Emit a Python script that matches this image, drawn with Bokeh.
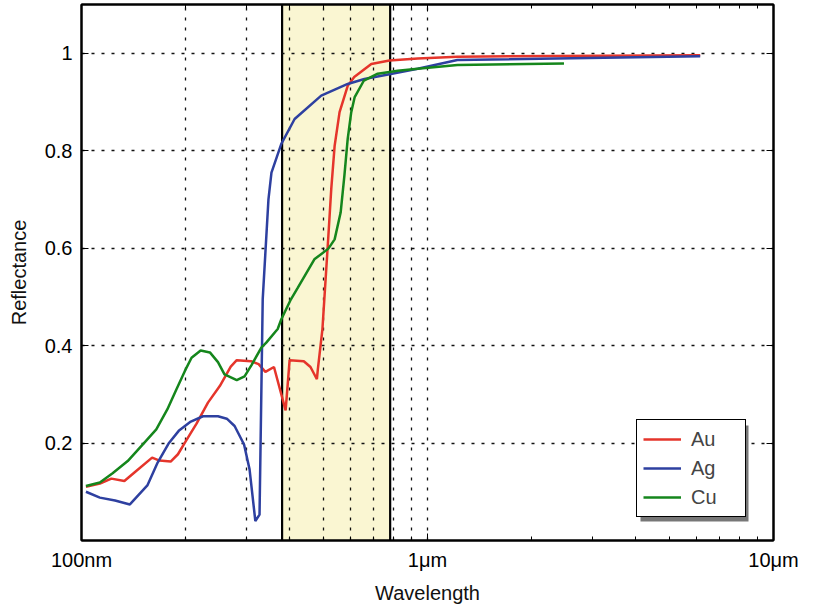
from bokeh.plotting import figure
from bokeh.models import (FixedTicker, LogAxis, LinearAxis, Legend, LegendItem,
                          BoxAnnotation, CustomJSTickFormatter)
from bokeh.embed import file_html
from bokeh.resources import INLINE

# wavelengths in nm, reflectance 0..1
au_x = [103, 113, 122, 133, 142.5, 160, 168, 181, 190, 199, 215, 232, 251, 270, 281, 309, 325, 340, 360, 389,
        399.5, 439, 459, 479, 482, 497, 517, 527, 539, 557, 588, 614, 688, 776, 937, 1220, 6140]
au_y = [0.110, 0.117, 0.127, 0.122, 0.140, 0.170, 0.164, 0.162, 0.177, 0.201, 0.240, 0.283, 0.317, 0.357, 0.370,
        0.368, 0.362, 0.346, 0.356, 0.267, 0.370, 0.368, 0.356, 0.331, 0.351, 0.434, 0.625, 0.721, 0.810, 0.879,
        0.933, 0.951, 0.978, 0.985, 0.989, 0.993, 0.996]

ag_x = [103, 113, 125, 138, 155, 166, 178.5, 191, 207, 224.5, 248, 263, 277, 295, 306, 318, 327, 334, 347, 354,
        378, 413, 493, 588, 657, 783, 937, 1220, 6140]
ag_y = [0.100, 0.088, 0.082, 0.074, 0.113, 0.160, 0.199, 0.225, 0.244, 0.255, 0.255, 0.250, 0.235, 0.197, 0.146,
        0.040, 0.053, 0.495, 0.700, 0.755, 0.814, 0.865, 0.913, 0.937, 0.947, 0.9575, 0.968, 0.986, 0.994]

cu_x = [103, 113, 123, 136, 152, 164.5, 177, 188, 199, 208, 221, 235, 248, 259, 281, 296, 310, 331, 342, 369, 378,
        403, 422, 471, 517, 539, 561, 575, 588, 602, 616, 655, 718, 820, 937, 1220, 2480]
cu_y = [0.112, 0.119, 0.138, 0.163, 0.201, 0.228, 0.269, 0.310, 0.348, 0.375, 0.390, 0.386, 0.366, 0.341, 0.329,
        0.337, 0.360, 0.396, 0.406, 0.434, 0.454, 0.495, 0.519, 0.577, 0.599, 0.618, 0.673, 0.748, 0.824, 0.879,
        0.910, 0.944, 0.958, 0.964, 0.968, 0.976, 0.979]

visible_band = [380, 780]
x_major = [100, 1000, 10000]
x_labels = ["100nm", "1\u03bcm", "10\u03bcm"]
x_minor = [200, 300, 400, 500, 600, 700, 800, 900, 2000, 3000, 4000, 5000, 6000, 7000, 8000, 9000]
x_grid = [200, 300, 400, 500, 600, 700, 800, 900, 1000]
y_ticks = [0.2, 0.4, 0.6, 0.8, 1.0]

FONT = "Liberation Sans"

p = figure(width=800, height=607, x_axis_type="log", x_range=(100, 10000), y_range=(0, 1.1),
           output_backend="svg", toolbar_location=None,
           min_border_left=81, min_border_right=27, min_border_top=4, min_border_bottom=67,
           x_axis_label="Wavelength", y_axis_label="Reflectance")

p.outline_line_color = "black"
p.outline_line_width = 2

xt = FixedTicker(ticks=x_major, minor_ticks=x_minor)
yt = FixedTicker(ticks=y_ticks)

for ax in [p.xaxis[0], p.yaxis[0]]:
    ax.axis_line_width = 2
    ax.major_tick_in = 7
    ax.major_tick_out = 0
    ax.minor_tick_in = 4
    ax.minor_tick_out = 0
    ax.major_label_text_font = FONT
    ax.major_label_text_font_size = "20px"
    ax.major_label_text_color = "black"
    ax.axis_label_text_font = FONT
    ax.axis_label_text_font_size = "20px"
    ax.axis_label_text_font_style = "normal"
    ax.axis_label_text_color = "#111111"

p.xaxis[0].major_label_standoff = 8
p.xaxis[0].axis_label_standoff = 8
p.yaxis[0].major_label_standoff = 9
p.yaxis[0].axis_label_standoff = 12

p.xaxis[0].ticker = xt
p.xaxis[0].major_label_overrides = {v: s for v, s in zip(x_major, x_labels)}
p.yaxis[0].ticker = yt
p.yaxis[0].major_label_overrides = {1: "1"}
p.yaxis[0].minor_tick_in = 0

blank = CustomJSTickFormatter(code="return ''")
top = LogAxis(ticker=xt, formatter=blank, major_tick_in=7, major_tick_out=0, minor_tick_in=4,
              minor_tick_out=0, axis_line_width=2)
right = LinearAxis(ticker=yt, formatter=blank, major_tick_in=7, major_tick_out=0, minor_tick_in=0,
                   minor_tick_out=0, axis_line_width=2)
p.add_layout(top, "above")
p.add_layout(right, "right")

p.xgrid.ticker = FixedTicker(ticks=x_grid)
p.ygrid.ticker = yt
for g in [p.xgrid[0], p.ygrid[0]]:
    g.grid_line_color = "#111111"
    g.grid_line_dash = "3 7"
    g.grid_line_width = 1.3

band = BoxAnnotation(left=visible_band[0], right=visible_band[1], fill_color="#faf6d2", fill_alpha=1,
                     line_color="black", line_alpha=1, line_width=2.2, level="image")
p.add_layout(band)

r_au = p.line(au_x, au_y, line_color="#e5352b", line_width=2.5)
r_ag = p.line(ag_x, ag_y, line_color="#2e40a0", line_width=2.5)
r_cu = p.line(cu_x, cu_y, line_color="#15861c", line_width=2.5)

# legend geometry (screen px, relative to frame bottom-left)
LX, LY, LW, LH = 555, 23, 108, 96
shadow = BoxAnnotation(left=LX + 4, right=LX + LW + 4, bottom=LY - 4, top=LY + LH - 4,
                       left_units="screen", right_units="screen", top_units="screen", bottom_units="screen",
                       fill_color="#555555", fill_alpha=0.8, line_alpha=0)
p.add_layout(shadow)

legend = Legend(items=[LegendItem(label="Au", renderers=[r_au]),
                       LegendItem(label="Ag", renderers=[r_ag]),
                       LegendItem(label="Cu", renderers=[r_cu])],
                location=(LX, LY))
legend.border_line_color = "black"
legend.border_line_alpha = 1
legend.border_line_width = 1.8
legend.background_fill_color = "white"
legend.background_fill_alpha = 1
legend.padding = 6
legend.spacing = 3
legend.label_height = 26
legend.glyph_height = 26
legend.glyph_width = 38
legend.label_width = 48
legend.label_standoff = 10
legend.label_text_font = FONT
legend.label_text_font_size = "20px"
legend.margin = 0
p.add_layout(legend)

open("out.html", "w").write(file_html(p, INLINE))
